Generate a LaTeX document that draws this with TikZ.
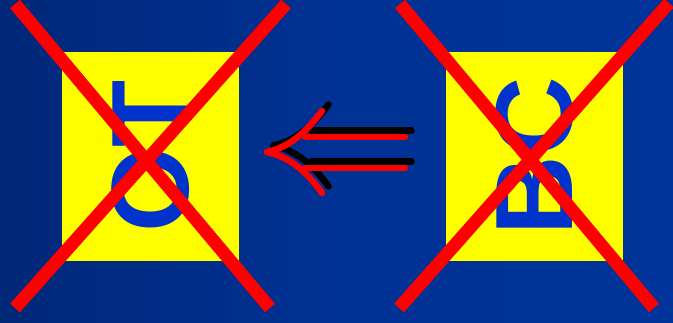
\documentclass[tikz,border=0pt]{standalone}
\usepackage{fontspec}
\setmainfont{Liberation Sans}
\definecolor{bgL}{HTML}{002878}
\definecolor{bgR}{HTML}{003399}
\definecolor{boxY}{HTML}{FFFF00}
\definecolor{txtB}{HTML}{0033CC}
\definecolor{xred}{HTML}{FF0000}
\tikzset{
  ybox/.style={fill=boxY, draw=none, minimum width=177pt, minimum height=209pt, inner sep=0pt},
  lbl/.style={text=txtB, font=\bfseries\fontsize{110}{110}\selectfont, rotate=90, inner sep=0pt},
  xline/.style={draw=xred, line width=13pt, line cap=butt},
  arr/.style={line width=6.5pt, line cap=round},
}
\begin{document}
\begin{tikzpicture}[x=1pt,y=-1pt]
\shade[left color=bgL, right color=bgR, middle color=bgR!85!bgL] (0,0) rectangle (673,322);
\useasboundingbox (0,0) rectangle (673,322);
% boxes
\node[ybox] (lbox) at (150.5,156.5) {};
\node[lbl] (ltxt) at (lbox.center) {OT};
\node[ybox] (rbox) at (534.5,156.5) {};
\node[lbl] (rtxt) at (rbox.center) {BC};
% crosses
\coordinate (l1a) at (15,4);  \coordinate (l1b) at (270,308);
\coordinate (l2a) at (286,4); \coordinate (l2b) at (15,308);
\coordinate (r1a) at (400,4); \coordinate (r1b) at (654,308);
\coordinate (r2a) at (669,3); \coordinate (r2b) at (399,308);
\draw[xline] (l1a) -- (l1b);
\draw[xline] (l2a) -- (l2b);
\draw[xline] (r1a) -- (r1b);
\draw[xline] (r2a) -- (r2b);
% arrow: black shadow then red
\foreach \dx/\dy/\c in {6.5/-6.5/black, 0/0/xred}{
  \begin{scope}[shift={(\dx,\dy)}]
    \coordinate (tip) at (267,152);
    \coordinate (ub) at (322,111);
    \coordinate (lb) at (322,193);
    \coordinate (us) at (305,137);
    \coordinate (ue) at (405,137);
    \coordinate (ls) at (305,168);
    \coordinate (le) at (405,168);
    \draw[arr, draw=\c] (ub) .. controls (306,132) and (290,147) .. (tip);
    \draw[arr, draw=\c] (tip) .. controls (290,157) and (307,172) .. (lb);
    \draw[arr, draw=\c] (us) -- (ue);
    \draw[arr, draw=\c] (ls) -- (le);
  \end{scope}
}
\end{tikzpicture}
\end{document}
